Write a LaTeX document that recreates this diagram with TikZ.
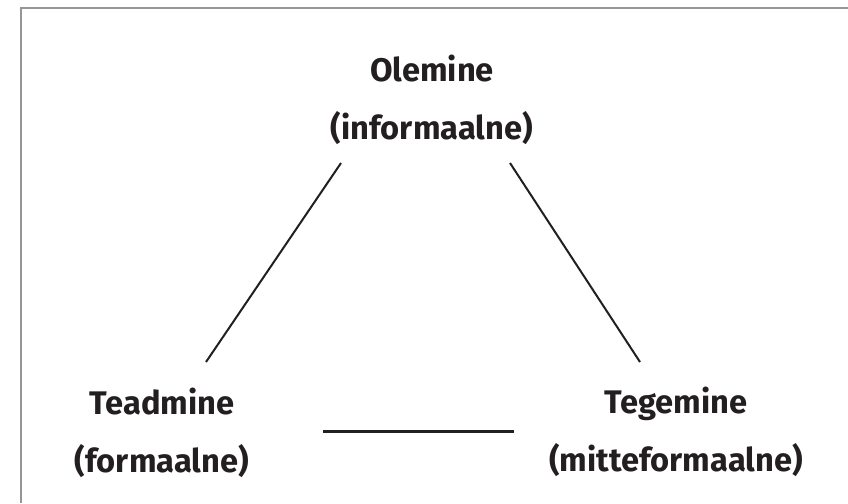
\documentclass[tikz,border=0pt]{standalone}
\usepackage{fontspec}
\setmainfont{Fira Sans}

\definecolor{inkblack}{RGB}{35,31,32}
\definecolor{framegray}{RGB}{150,150,150}

\tikzset{every picture/.style={line width=0.75pt}}
\tikzset{
  label text/.style={font=\fontsize{24.5}{43.5}\selectfont\bfseries, text=inkblack, align=center, inner sep=0pt},
  thin link/.style={draw=inkblack, line width=1.5},
  thick link/.style={draw=inkblack, line width=2.25},
}

\begin{document}
\begin{tikzpicture}[x=0.75pt,y=0.75pt,yscale=-1,xscale=1]
\useasboundingbox (0,0) rectangle (848,503);

%Frame: top and left edges only
\draw [framegray, line width=1.2]  (848,8) -- (21,8) -- (21,503) ;

% Text Nodes
\node [label text] (olemine)  at (432,100) {Olemine\\(informaalne)};
\node [label text] (teadmine) at (162,433) {Teadmine\\(formaalne)};
\node [label text] (tegemine) at (676,432) {Tegemine\\(mitteformaalne)};

% Line ends
\coordinate (olemineL)  at (341,163);
\coordinate (olemineR)  at (510,163);
\coordinate (teadmineU) at (206,362);
\coordinate (tegemineU) at (640,362);
\coordinate (teadmineR) at (323,431);
\coordinate (tegemineL) at (514,431);

%Straight Lines
\draw [thin link]  (olemineL) -- (teadmineU) ;
\draw [thin link]  (olemineR) -- (tegemineU) ;
\draw [thick link] (teadmineR) -- (tegemineL) ;

\end{tikzpicture}
\end{document}
